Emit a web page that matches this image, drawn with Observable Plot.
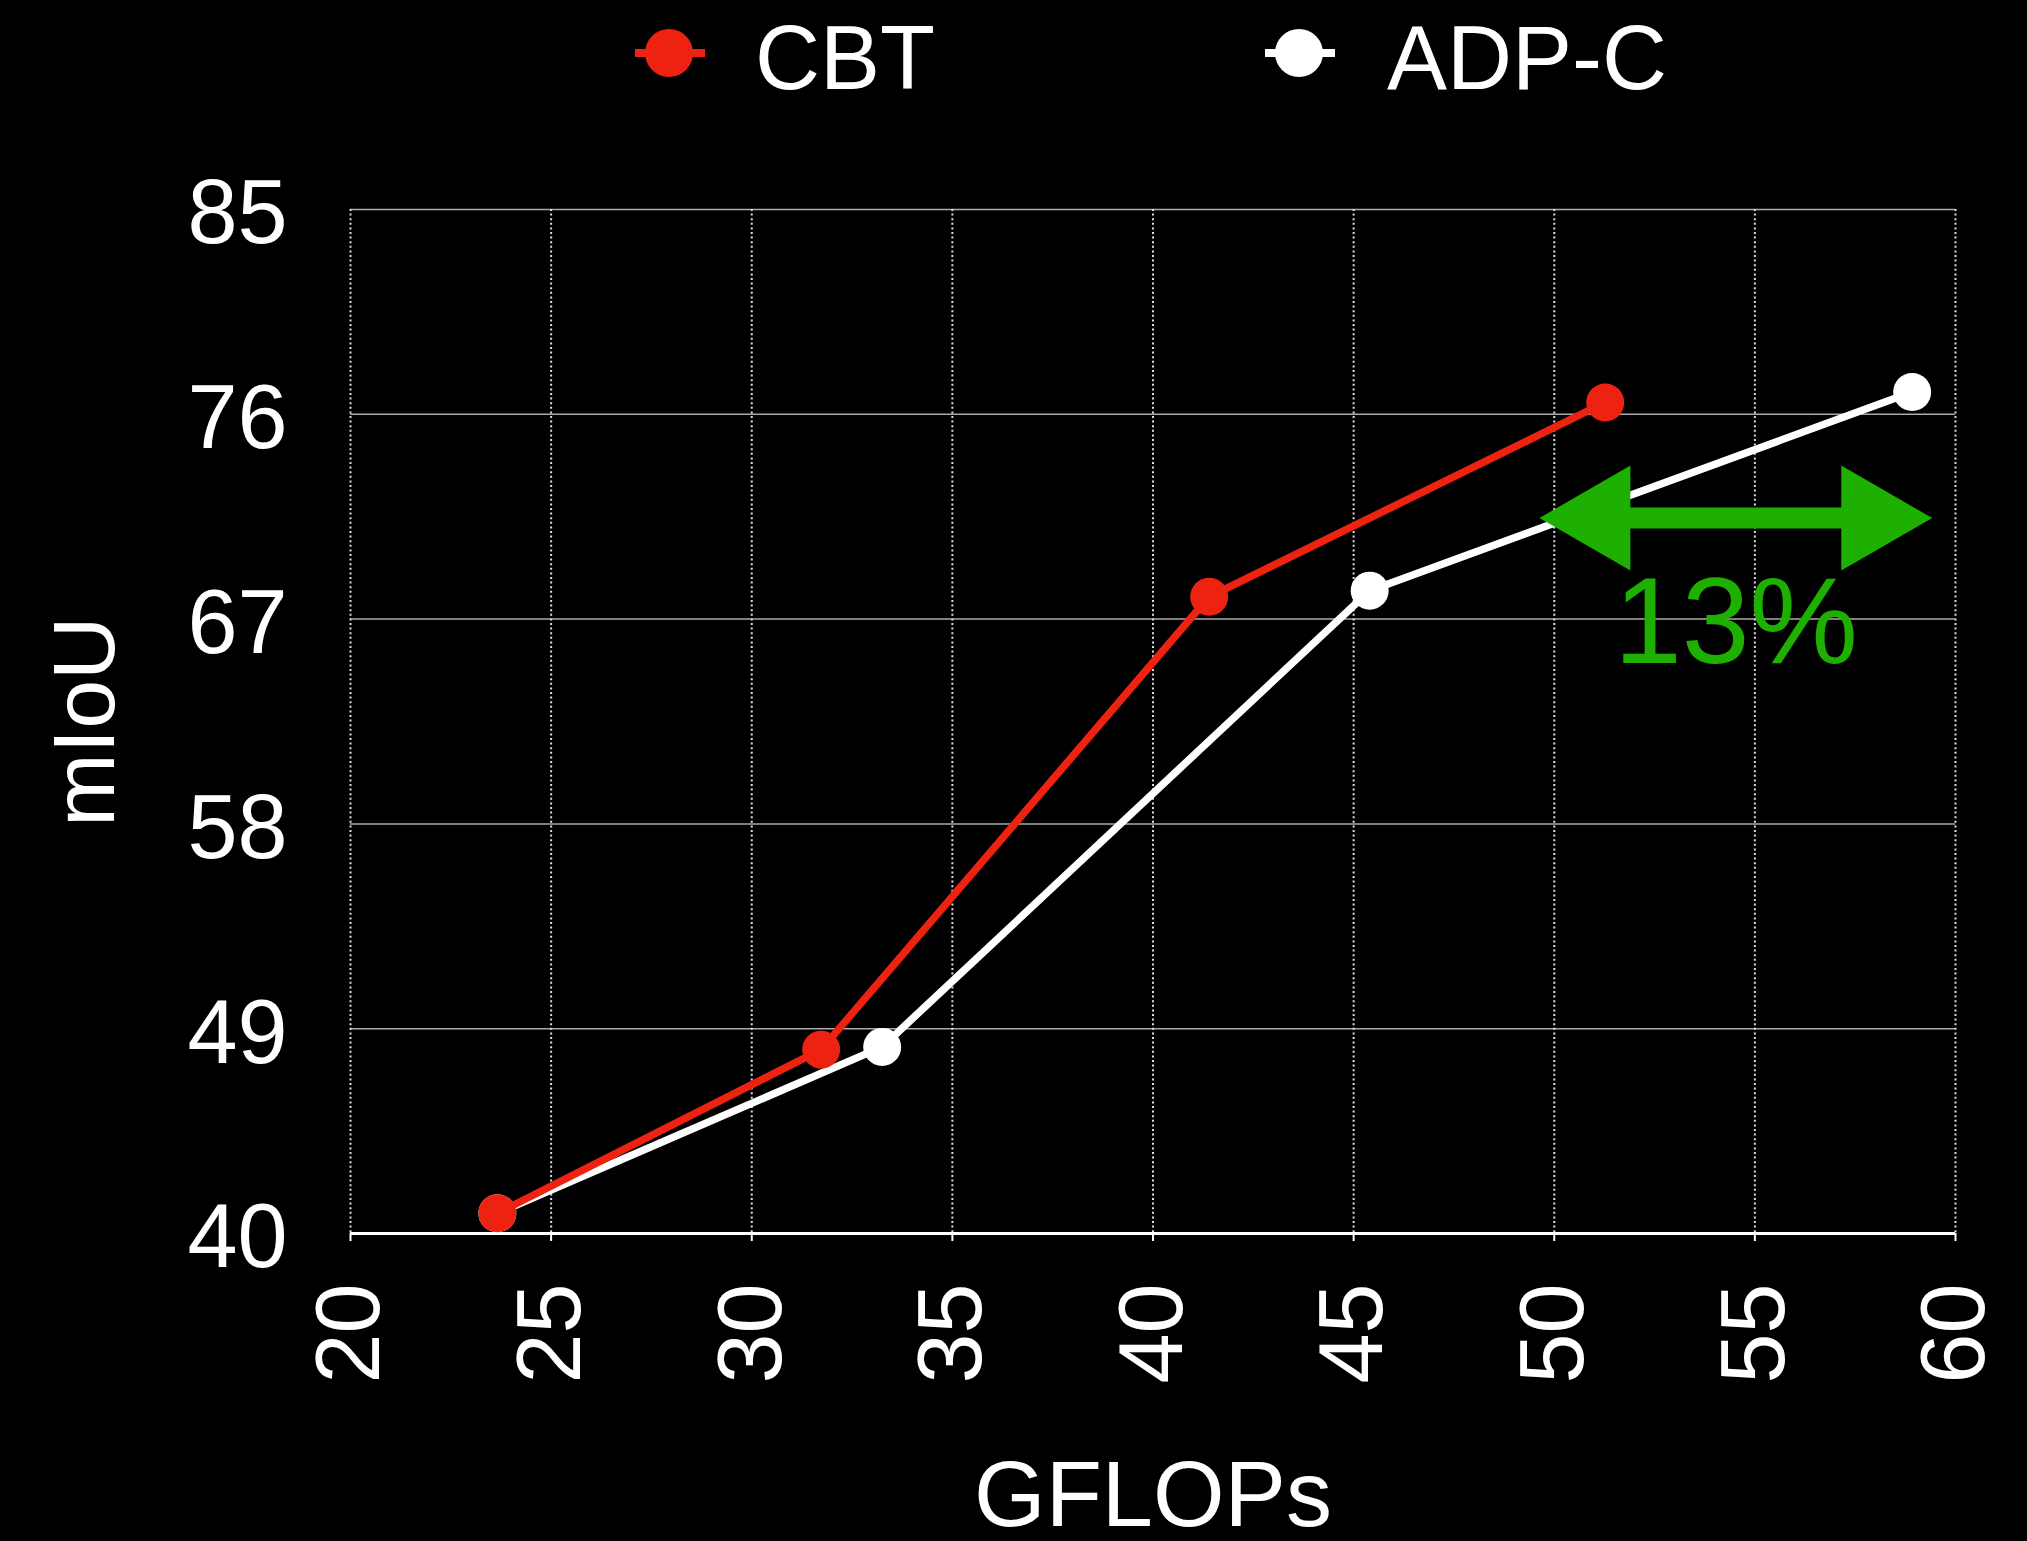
<!DOCTYPE html>
<html>
<head>
<meta charset="utf-8">
<script src="https://cdn.jsdelivr.net/npm/d3@7"></script>
<script src="https://cdn.jsdelivr.net/npm/@observablehq/plot@0.6"></script>
<style>
  html, body { margin: 0; padding: 0; background: #000; overflow: hidden; }
  body { width: 2027px; height: 1541px; font-family: "Liberation Sans", Arial, Helvetica, sans-serif; }
  #legend { position: relative; width: 2027px; height: 130px; }
  .item { position: absolute; top: 0; height: 130px; }
  .item svg { position: absolute; top: 0; left: 0; }
  .item span { position: absolute; top: 13px; font-size: 90px; line-height: 1; color: #fff; white-space: nowrap; }
  #chart svg { display: block; }
</style>
</head>
<body>
<div id="legend"></div>
<div id="chart"></div>
<script>
// ---- data ----
const seriesNames = ["CBT", "ADP-C"];
const gflopsCBT = [23.66, 31.73, 41.40, 51.27];
const miouCBT   = [40.89, 48.08, 67.98, 76.52];
const gflopsADP = [23.66, 33.25, 45.40, 58.92];
const miouADP   = [40.89, 48.20, 68.25, 76.98];
const xTicks = [20, 25, 30, 35, 40, 45, 50, 55, 60];
const yTicks = [40, 49, 58, 67, 76, 85];
const xLabel = "GFLOPs";
const yLabel = "mIoU";
const arrowX1 = [49.63];
const arrowX2 = [59.42];
const arrowY = [71.44];
const noteX = [54.53];
const noteY = [65.08];
const noteText = ["13%"];

// ---- styles ----
const RED = "#ee2211";
const WHITE = "#ffffff";
const GREEN = "#1eb000";
const colors = {"CBT": RED, "ADP-C": WHITE};

// ---- legend (HTML) ----
const legend = document.getElementById("legend");
const legendPos = {"CBT": 635, "ADP-C": 1265};
for (const name of seriesNames) {
  const item = document.createElement("div");
  item.className = "item";
  item.style.left = legendPos[name] + "px";
  item.innerHTML =
    `<svg width="70" height="130"><line x1="0" x2="70" y1="53" y2="53" stroke="${colors[name]}" stroke-width="8"/>` +
    `<circle cx="34" cy="53" r="24" fill="${colors[name]}"/></svg>` +
    `<span style="left:${name === "CBT" ? 120 : 122}px">${name}</span>`;
  legend.appendChild(item);
}

// ---- tables ----
const cbt = gflopsCBT.map((x, i) => ({series: "CBT", x, y: miouCBT[i]}));
const adp = gflopsADP.map((x, i) => ({series: "ADP-C", x, y: miouADP[i]}));
const arrow = arrowX1.map((x1, i) => ({x1, x2: arrowX2[i], y: arrowY[i]}));
const note = noteX.map((x, i) => ({x, y: noteY[i], text: noteText[i]}));

// custom triangle symbols with the tip at the origin
function triangle(dir) {
  return {
    draw(context, size) {
      const s = Math.sqrt(size * 4 / Math.sqrt(3));
      const h = s * Math.sqrt(3) / 2;
      context.moveTo(0, 0);
      context.lineTo(-dir * h, -s / 2);
      context.lineTo(-dir * h, s / 2);
      context.closePath();
    }
  };
}

const chart = Plot.plot({
  width: 2027,
  height: 1411,
  marginTop: 79,
  marginBottom: 308,
  marginLeft: 350,
  marginRight: 72,
  style: {background: "#000", color: "#fff", fontFamily: "'Liberation Sans', Arial, Helvetica, sans-serif", overflow: "visible"},
  x: {domain: [20, 60]},
  y: {domain: [40, 85]},
  marks: [
    Plot.gridY(yTicks, {stroke: "#aaaaaa", strokeOpacity: 1, strokeWidth: 1.5}),
    Plot.gridX(xTicks, {stroke: "#dddddd", strokeOpacity: 1, strokeWidth: 2, strokeDasharray: "2,2.6"}),
    Plot.ruleY([40], {stroke: "#ffffff", strokeWidth: 3}),
    Plot.axisX(xTicks, {tickSize: 8, tickPadding: 42, tickRotate: -90, fontSize: 90, label: null, stroke: "#ffffff", strokeWidth: 2}),
    Plot.axisY(yTicks, {tickSize: 0, tickPadding: 63, fontSize: 90, label: null, dy: 5}),
    Plot.text([xLabel], {frameAnchor: "bottom", text: d => d, fontSize: 92, lineAnchor: "bottom", dy: 292, fill: "#fff"}),
    Plot.text([yLabel], {frameAnchor: "left", text: d => d, fontSize: 88, rotate: -90, textAnchor: "middle", lineAnchor: "bottom", dx: -237, fill: "#fff"}),
    Plot.line(adp, {x: "x", y: "y", stroke: WHITE, strokeWidth: 7.5}),
    Plot.dot(adp, {x: "x", y: "y", r: 19, fill: WHITE}),
    Plot.line(cbt, {x: "x", y: "y", stroke: RED, strokeWidth: 7.5}),
    Plot.dot(cbt, {x: "x", y: "y", r: 19, fill: RED}),
    Plot.ruleY(arrow, {y: "y", x1: "x1", x2: "x2", stroke: GREEN, strokeWidth: 21, insetLeft: 85, insetRight: 85}),
    Plot.dot(arrow, {x: "x1", y: "y", symbol: triangle(-1), r: 39, fill: GREEN}),
    Plot.dot(arrow, {x: "x2", y: "y", symbol: triangle(1), r: 39, fill: GREEN}),
    Plot.text(note, {x: "x", y: "y", text: "text", fontSize: 122, lineAnchor: "bottom", fill: GREEN})
  ]
});
document.getElementById("chart").appendChild(chart);
</script>
</body>
</html>
